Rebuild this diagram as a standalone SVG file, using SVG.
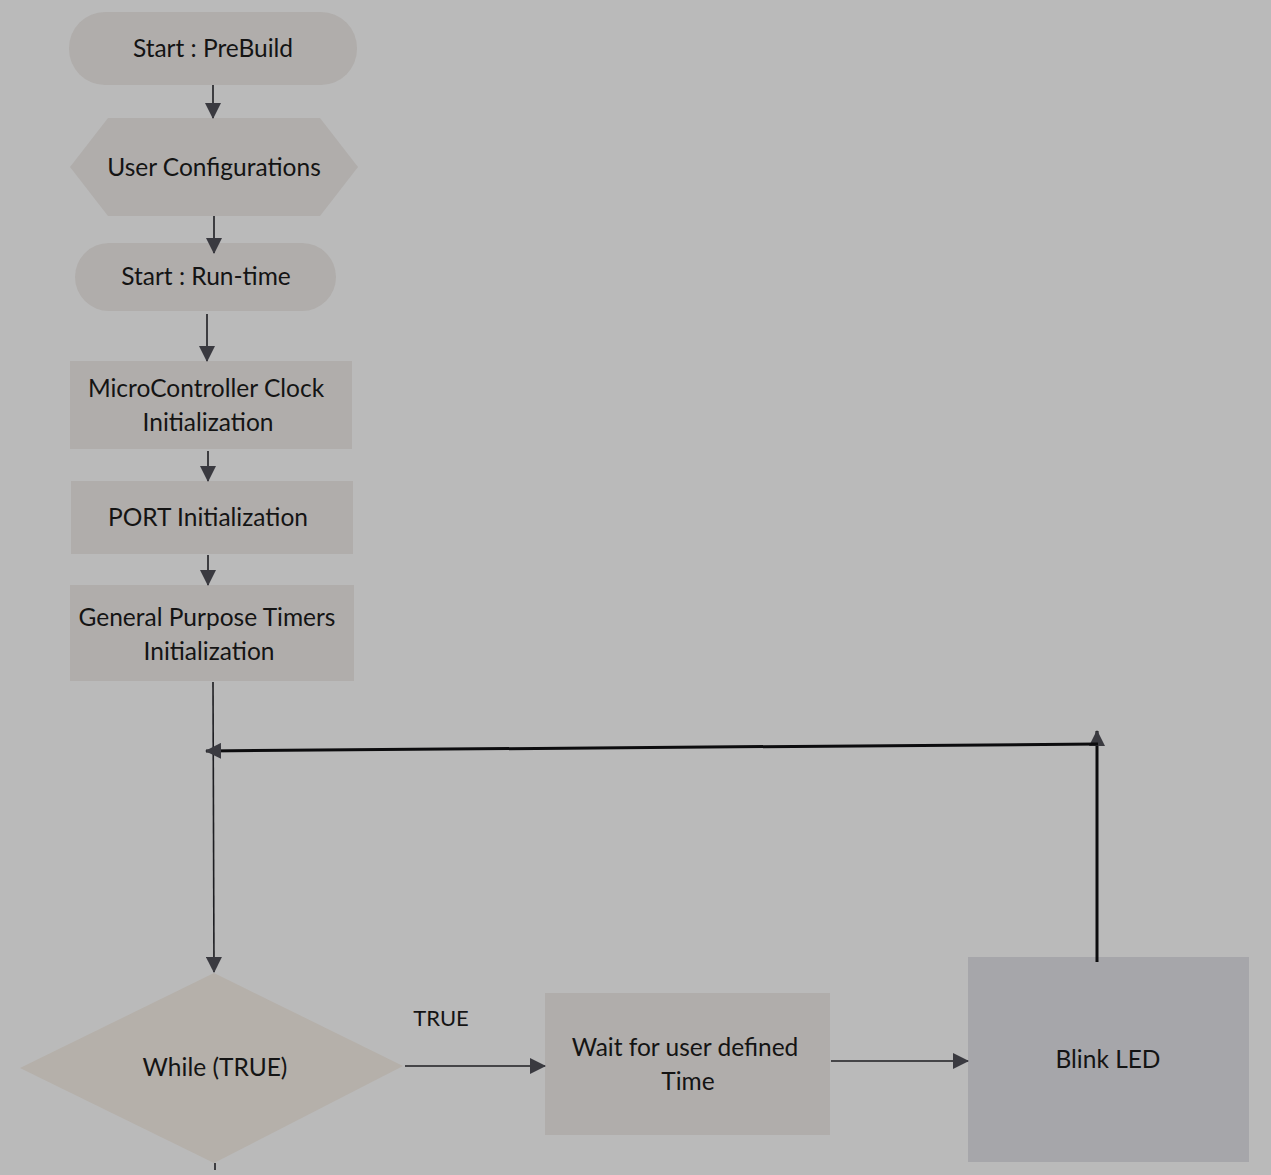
<svg xmlns="http://www.w3.org/2000/svg" width="1271" height="1175" viewBox="0 0 1271 1175">
<style>
  .node { fill: #b0adab; }
  .lbl { font-family: Lato, "Open Sans", "Liberation Sans", sans-serif; font-size: 24.5px; fill: #141414; text-anchor: middle; }
  .edge { stroke: #1e1e22; stroke-width: 1.6; fill: none; }
  .thick { stroke: #0c0c0e; stroke-width: 3; fill: none; }
</style>
<defs>
  <marker id="ah" viewBox="0 0 16 16" refX="15" refY="8" markerWidth="16" markerHeight="16" markerUnits="userSpaceOnUse" orient="auto">
    <path d="M0,0 L16,8 L0,16 Z" fill="#3a3a40"/>
  </marker>
</defs>
<rect width="1271" height="1175" fill="#bababa"/>

<g id="n-prebuild">
  <rect class="node" x="69" y="12" width="288" height="73" rx="36"/>
  <text class="lbl" x="213" y="57">Start : PreBuild</text>
</g>
<g id="n-userconf">
  <polygon class="node" points="70,167 108,118 320,118 358,167 320,216 108,216"/>
  <text class="lbl" x="214" y="176">User Configurations</text>
</g>
<g id="n-runtime">
  <rect class="node" x="75" y="243" width="261" height="68" rx="34"/>
  <text class="lbl" x="206" y="285">Start : Run-time</text>
</g>
<g id="n-clock">
  <rect class="node" x="70" y="361" width="282" height="88"/>
  <text class="lbl" x="206" y="397">MicroController Clock</text>
  <text class="lbl" x="208" y="431">Initialization</text>
</g>
<g id="n-port">
  <rect class="node" x="71" y="481" width="282" height="73"/>
  <text class="lbl" x="208" y="526">PORT Initialization</text>
</g>
<g id="n-gpt">
  <rect class="node" x="70" y="585" width="284" height="96"/>
  <text class="lbl" x="207" y="626">General Purpose Timers</text>
  <text class="lbl" x="209" y="660">Initialization</text>
</g>
<g id="n-while">
  <polygon points="20,1068 214,973 403,1066 214,1163" fill="#b5b0aa"/>
  <text class="lbl" x="215" y="1076">While (TRUE)</text>
</g>
<g id="n-wait">
  <rect class="node" x="545" y="993" width="285" height="142"/>
  <text class="lbl" x="685" y="1056">Wait for user defined</text>
  <text class="lbl" x="688" y="1090">Time</text>
</g>
<g id="n-blink">
  <rect x="968" y="957" width="281" height="205" fill="#a6a6aa"/>
  <text class="lbl" x="1108" y="1068">Blink LED</text>
</g>

<g id="connectors">
  <line class="edge" x1="213" y1="85" x2="213" y2="118" marker-end="url(#ah)"/>
  <line class="edge" x1="214" y1="216" x2="214" y2="253" marker-end="url(#ah)"/>
  <line class="edge" x1="207" y1="314" x2="207" y2="361" marker-end="url(#ah)"/>
  <line class="edge" x1="208" y1="451" x2="208" y2="481" marker-end="url(#ah)"/>
  <line class="edge" x1="208" y1="555" x2="208" y2="585" marker-end="url(#ah)"/>
  <line class="edge" x1="213" y1="682" x2="214" y2="972" marker-end="url(#ah)"/>
  <line class="thick" x1="1097" y1="962" x2="1097" y2="731" marker-end="url(#ah)"/>
  <line class="thick" x1="1098" y1="744" x2="206" y2="751" marker-end="url(#ah)"/>
  <line class="edge" x1="405" y1="1066" x2="545" y2="1066" marker-end="url(#ah)"/>
  <line class="edge" x1="831" y1="1061" x2="968" y2="1061" marker-end="url(#ah)"/>
  <line class="edge" x1="215" y1="1163" x2="215" y2="1170"/>
  <text class="lbl" x="441" y="1026" style="font-size:22px">TRUE</text>
</g>
</svg>
